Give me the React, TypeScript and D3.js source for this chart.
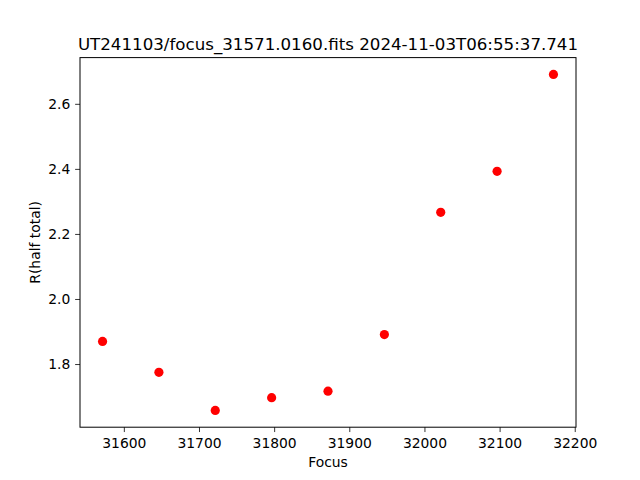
import React from "react";
import * as d3 from "d3";

const focusValues = [31571, 31646, 31721, 31796, 31871, 31946, 32021, 32096, 32171];
const rValues = [1.871, 1.776, 1.659, 1.698, 1.718, 1.892, 2.268, 2.394, 2.692];
const xTicks = [31600, 31700, 31800, 31900, 32000, 32100, 32200];
const yTicks = [1.8, 2.0, 2.2, 2.4, 2.6];
const title = "UT241103/focus_31571.0160.fits 2024-11-03T06:55:37.741";
const xLabel = "Focus";
const yLabel = "R(half total)";

export default function App() {
  const W = 640, H = 480;
  const left = 80, right = 576, top = 57.6, bottom = 427.2;
  const xMin = d3.min(focusValues)!, xMax = d3.max(focusValues)!;
  const yMin = d3.min(rValues)!, yMax = d3.max(rValues)!;
  const xp = (xMax - xMin) * 0.05, yp = (yMax - yMin) * 0.05;
  const x = d3.scaleLinear().domain([xMin - xp, xMax + xp]).range([left, right]);
  const y = d3.scaleLinear().domain([yMin - yp, yMax + yp]).range([bottom, top]);
  const font = "DejaVu Sans, sans-serif";
  const tl = 4.86;
  return (
    <svg width={W} height={H} style={{ position: "absolute", left: 0, top: 0 }}>
      <rect x={0} y={0} width={W} height={H} fill="white" />
      <text x={(left + right) / 2} y={50} textAnchor="middle" fontFamily={font} fontSize={16.67} fill="black">{title}</text>
      {focusValues.map((f, i) => (
        <circle key={i} cx={x(f)} cy={y(rValues[i])} r={4.6} fill="red" />
      ))}
      <rect x={left} y={top} width={right - left} height={bottom - top} fill="none" stroke="black" strokeWidth={1} />
      {xTicks.map((t) => (
        <g key={t}>
          <line x1={x(t)} x2={x(t)} y1={bottom} y2={bottom + tl} stroke="black" strokeWidth={0.8} />
          <text x={x(t)} y={bottom + tl + 4.86 + 10.6} textAnchor="middle" fontFamily={font} fontSize={13.89} fill="black">{t}</text>
        </g>
      ))}
      {yTicks.map((t) => (
        <g key={t}>
          <line x1={left - tl} x2={left} y1={y(t)} y2={y(t)} stroke="black" strokeWidth={0.8} />
          <text x={left - tl - 4.86} y={y(t)} dy="0.35em" textAnchor="end" fontFamily={font} fontSize={13.89} fill="black">{t.toFixed(1)}</text>
        </g>
      ))}
      <text x={(left + right) / 2} y={467} textAnchor="middle" fontFamily={font} fontSize={13.89} fill="black">{xLabel}</text>
      <text transform={`translate(39.5, ${(top + bottom) / 2}) rotate(-90)`} textAnchor="middle" fontFamily={font} fontSize={13.89} fill="black">{yLabel}</text>
    </svg>
  );
}
